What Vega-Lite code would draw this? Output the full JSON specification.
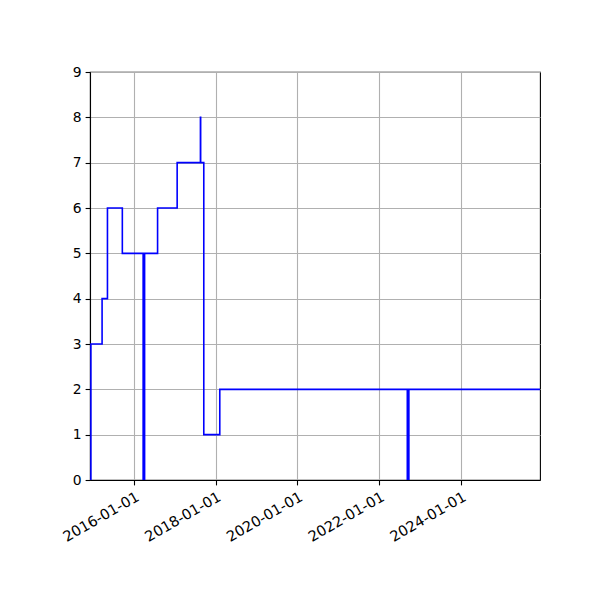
{
  "$schema": "https://vega.github.io/schema/vega-lite/v6.json",
  "width": 450,
  "height": 408,
  "autosize": {"type": "none"},
  "padding": {"left": 90, "top": 72, "right": 60, "bottom": 120},
  "background": "white",
  "config": {
    "font": "DejaVu Sans",
    "view": {"stroke": "black", "strokeWidth": 1.1},
    "axis": {
      "labelFont": "DejaVu Sans",
      "labelFontSize": 13.9,
      "labelColor": "black",
      "domainColor": "black",
      "domainWidth": 1.1,
      "tickColor": "black",
      "tickWidth": 1.1,
      "tickSize": 4.9,
      "labelPadding": 4,
      "gridColor": "#b0b0b0",
      "gridWidth": 1.1,
      "title": null
    }
  },
  "data": {
    "values": [
      {"date": "2014-12-06", "value": 0},
      {"date": "2014-12-14", "value": 3},
      {"date": "2015-03-24", "value": 4},
      {"date": "2015-05-11", "value": 6},
      {"date": "2015-09-21", "value": 5},
      {"date": "2016-03-25", "value": 0},
      {"date": "2016-04-07", "value": 5},
      {"date": "2016-08-01", "value": 6},
      {"date": "2017-01-23", "value": 7},
      {"date": "2017-08-19", "value": 8},
      {"date": "2017-08-21", "value": 7},
      {"date": "2017-09-18", "value": 1},
      {"date": "2018-02-08", "value": 2},
      {"date": "2022-09-11", "value": 0},
      {"date": "2022-09-25", "value": 2},
      {"date": "2025-12-10", "value": 2}
    ]
  },
  "mark": {
    "type": "line",
    "interpolate": "step-after",
    "color": "#0000ff",
    "strokeWidth": 1.6,
    "clip": true
  },
  "encoding": {
    "x": {
      "field": "date",
      "type": "temporal",
      "scale": {
        "type": "utc",
        "domain": [
          {"year": 2014, "month": 12, "date": 6, "utc": true},
          {"year": 2025, "month": 12, "date": 10, "utc": true}
        ],
        "nice": false
      },
      "axis": {
        "values": [
          {"year": 2016, "month": 1, "date": 1, "utc": true},
          {"year": 2018, "month": 1, "date": 1, "utc": true},
          {"year": 2020, "month": 1, "date": 1, "utc": true},
          {"year": 2022, "month": 1, "date": 1, "utc": true},
          {"year": 2024, "month": 1, "date": 1, "utc": true}
        ],
        "labelExpr": "utcFormat(datum.value, '%Y-%m-%d')",
        "labelFontSize": 14.6,
        "labelAngle": -30,
        "labelAlign": "right",
        "labelBaseline": "top",
        "labelFlush": false,
        "labelOverlap": false,
        "grid": true
      }
    },
    "y": {
      "field": "value",
      "type": "quantitative",
      "scale": {"domain": [0, 9], "nice": false},
      "axis": {
        "values": [0, 1, 2, 3, 4, 5, 6, 7, 8, 9],
        "grid": true,
        "labelFlush": false
      }
    }
  }
}
